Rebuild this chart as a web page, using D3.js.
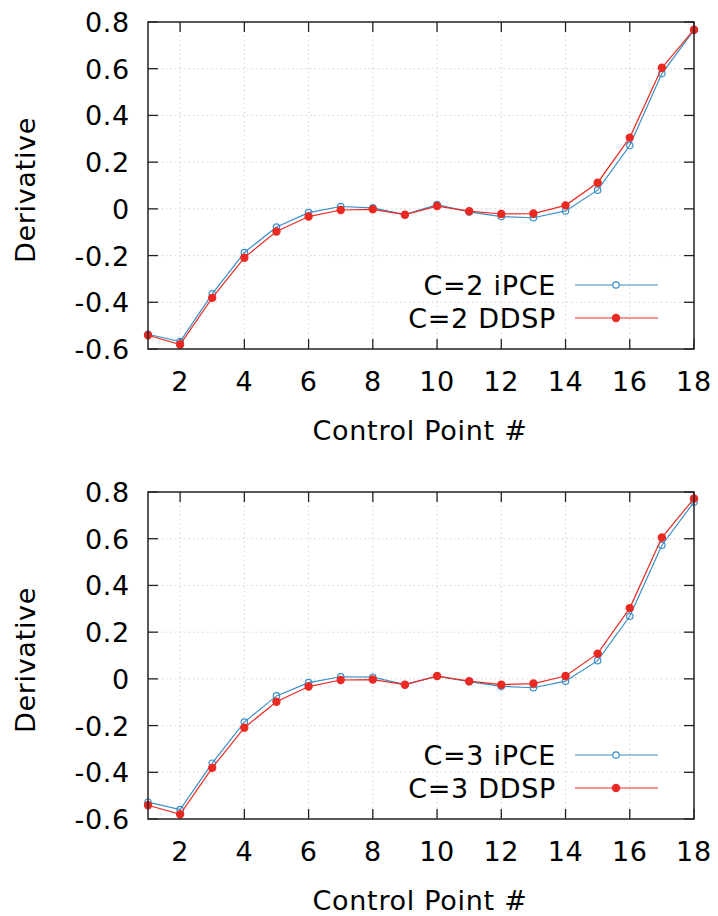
<!DOCTYPE html>
<html>
<head>
<meta charset="utf-8">
<script src="https://cdn.jsdelivr.net/npm/d3@7"></script>
<style>
  body { margin: 0; background: #fff; }
  text { font-family: "DejaVu Sans", sans-serif; fill: #000; letter-spacing: 0.7px; }
</style>
</head>
<body>
<svg id="chart" width="718" height="916"></svg>
<script>
const points = d3.range(1, 19);
const xTicks = [2, 4, 6, 8, 10, 12, 14, 16, 18];
const yTicks = [-0.6, -0.4, -0.2, 0, 0.2, 0.4, 0.6, 0.8];

const ipceC2 = [-0.537, -0.568, -0.364, -0.187, -0.078, -0.016, 0.010, 0.004, -0.025, 0.018,
  -0.013, -0.033, -0.038, -0.009, 0.080, 0.271, 0.579, 0.765];
const ddspC2 = [-0.541, -0.581, -0.381, -0.209, -0.097, -0.033, -0.005, -0.002, -0.025, 0.012,
  -0.010, -0.022, -0.020, 0.015, 0.112, 0.305, 0.604, 0.767];

const ipceC3 = [-0.528, -0.560, -0.361, -0.185, -0.073, -0.016, 0.009, 0.007, -0.025, 0.012,
  -0.012, -0.032, -0.038, -0.010, 0.078, 0.268, 0.572, 0.757];
const ddspC3 = [-0.541, -0.580, -0.381, -0.209, -0.098, -0.033, -0.005, -0.003, -0.025, 0.012,
  -0.010, -0.025, -0.020, 0.012, 0.108, 0.303, 0.605, 0.772];

const panels = [
  { top: 22, series: [
    { name: 'C=2 iPCE', values: ipceC2, color: '#3b8ec6', filled: false },
    { name: 'C=2 DDSP', values: ddspC2, color: '#ea2a22', filled: true }
  ] },
  { top: 492, series: [
    { name: 'C=3 iPCE', values: ipceC3, color: '#3b8ec6', filled: false },
    { name: 'C=3 DDSP', values: ddspC3, color: '#ea2a22', filled: true }
  ] }
];

const svg = d3.select('#chart');
const left = 148, right = 694, plotH = 327;
const tickLen = 10;
const fs = '27px';

const x = d3.scaleLinear().domain([1, 18]).range([left, right]);
const yFmt = (d) => (d === 0 ? '0' : d.toFixed(1));

panels.forEach((p) => {
  const y = d3.scaleLinear().domain([-0.6, 0.8]).range([p.top + plotH, p.top]);
  const g = svg.append('g');

  // grid
  g.selectAll('.gx').data(xTicks.filter((t) => t < 18)).enter().append('line')
    .attr('x1', (d) => x(d)).attr('x2', (d) => x(d))
    .attr('y1', p.top).attr('y2', p.top + plotH)
    .attr('stroke', '#c8c8c8').attr('stroke-width', 0.8).attr('stroke-dasharray', '1.5,3');
  g.selectAll('.gy').data(yTicks.filter((t) => t > -0.6 && t < 0.8)).enter().append('line')
    .attr('x1', left).attr('x2', right)
    .attr('y1', (d) => y(d)).attr('y2', (d) => y(d))
    .attr('stroke', '#c8c8c8').attr('stroke-width', 0.8).attr('stroke-dasharray', '1.5,3');

  // ticks (inward, mirrored)
  const tk = g.append('g').attr('stroke', '#222').attr('stroke-width', 1.3);
  xTicks.forEach((t) => {
    tk.append('line').attr('x1', x(t)).attr('x2', x(t)).attr('y1', p.top + plotH).attr('y2', p.top + plotH - tickLen);
    tk.append('line').attr('x1', x(t)).attr('x2', x(t)).attr('y1', p.top).attr('y2', p.top + tickLen);
  });
  yTicks.forEach((t) => {
    tk.append('line').attr('x1', left).attr('x2', left + tickLen).attr('y1', y(t)).attr('y2', y(t));
    tk.append('line').attr('x1', right).attr('x2', right - tickLen).attr('y1', y(t)).attr('y2', y(t));
  });

  // tick labels
  g.selectAll('.xl').data(xTicks).enter().append('text')
    .attr('x', (d) => x(d)).attr('y', p.top + plotH + 42)
    .attr('text-anchor', 'middle').attr('font-size', fs).text((d) => d);
  g.selectAll('.yl').data(yTicks).enter().append('text')
    .attr('x', 130).attr('y', (d) => y(d) + 10)
    .attr('text-anchor', 'end').attr('font-size', fs).text(yFmt);

  // axis titles
  g.append('text').attr('x', 420).attr('y', p.top + plotH + 91)
    .attr('text-anchor', 'middle').attr('font-size', fs).text('Control Point #');
  g.append('text').attr('transform', `translate(35,${p.top + 168}) rotate(-90)`)
    .attr('text-anchor', 'middle').attr('font-size', fs).text('Derivative');

  // series
  const line = d3.line().x((d, i) => x(points[i])).y((d) => y(d));
  p.series.forEach((s) => {
    g.append('path').datum(s.values).attr('d', line)
      .attr('fill', 'none').attr('stroke', s.color).attr('stroke-width', 1.2);
    g.selectAll(null).data(s.values).enter().append('circle')
      .attr('cx', (d, i) => x(points[i])).attr('cy', (d) => y(d))
      .attr('r', s.filled ? 3.6 : 3.2)
      .attr('fill', s.filled ? s.color : 'none')
      .attr('stroke', s.color).attr('stroke-width', 1.2);
  });

  // legend
  p.series.forEach((s, i) => {
    const ly = p.top + 263 + i * 33;
    g.append('text').attr('x', 556).attr('y', ly + 10)
      .attr('text-anchor', 'end').attr('font-size', fs).text(s.name);
    g.append('line').attr('x1', 575).attr('x2', 658).attr('y1', ly).attr('y2', ly)
      .attr('stroke', s.color).attr('stroke-width', 1.2);
    g.append('circle').attr('cx', 616).attr('cy', ly).attr('r', s.filled ? 3.6 : 3.2)
      .attr('fill', s.filled ? s.color : '#fff').attr('stroke', s.color).attr('stroke-width', 1.2);
  });

  // border
  g.append('rect').attr('x', left).attr('y', p.top).attr('width', right - left).attr('height', plotH)
    .attr('fill', 'none').attr('stroke', '#222').attr('stroke-width', 1.5);
});
</script>
</body>
</html>
